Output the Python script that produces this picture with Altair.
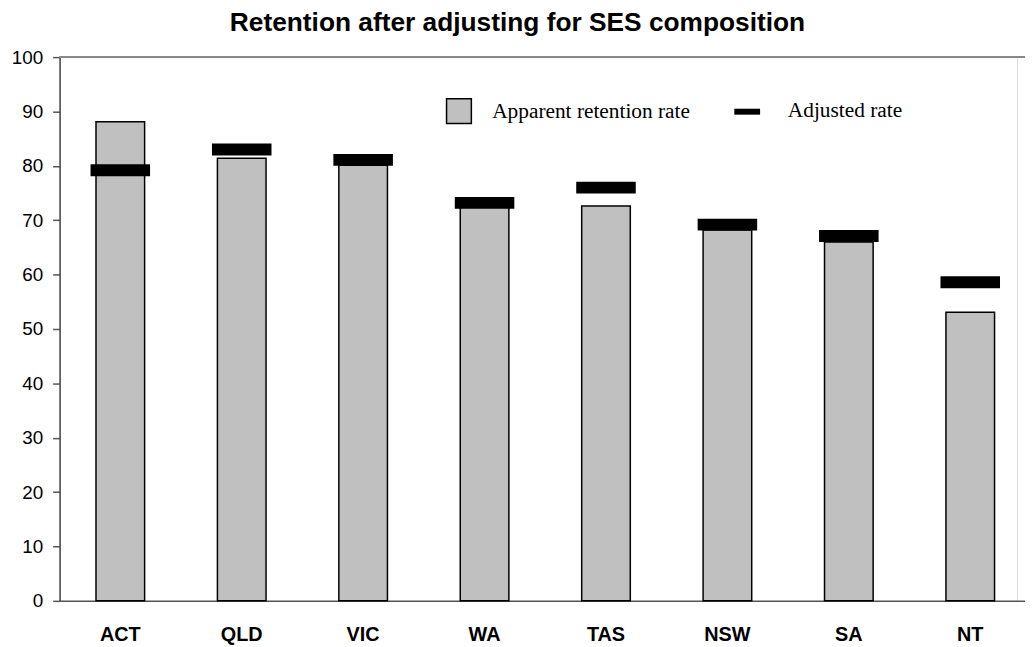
import altair as alt
import pandas as pd

states = ["ACT", "QLD", "VIC", "WA", "TAS", "NSW", "SA", "NT"]
apparent = [88.1, 81.4, 80.1, 72.4, 72.6, 68.2, 66.0, 53.1]
adjusted = [79.2, 83.0, 81.1, 73.2, 76.0, 69.2, 67.1, 58.6]
y_ticks = [0, 10, 20, 30, 40, 50, 60, 70, 80, 90, 100]
legend_labels = ["Apparent retention rate", "Adjusted rate"]
title_text = ["Retention after adjusting for SES composition"]

df = pd.DataFrame({"state": states, "apparent": apparent, "adjusted": adjusted})

W, H = 965, 548

x_enc = alt.X(
    "state:N",
    sort=None,
    title=None,
    scale=alt.Scale(range=[0, 979], paddingInner=0, paddingOuter=0),
    axis=alt.Axis(
        labelFont="Liberation Sans",
        labelFontSize=20,
        labelFontWeight="bold",
        labelColor="black",
        ticks=False,
        labelPadding=24,
        domainColor="#555555",
        domainWidth=1.5,
        labelAngle=0,
    ),
)
y_scale = alt.Scale(domain=[0, 100], nice=False, zero=True)
y_axis = alt.Axis(
    values=y_ticks,
    grid=False,
    labelFont="Liberation Sans",
    labelFontSize=19,
    labelColor="black",
    tickSize=7,
    tickColor="#555555",
    tickWidth=1.5,
    labelPadding=10,
    domainColor="#444444",
    domainWidth=1.5,
    title=None,
)

base = alt.Chart(df)

bars = base.mark_bar(
    width=49, color="#c0c0c0", stroke="black", strokeWidth=1.5
).encode(
    x=x_enc,
    y=alt.Y("apparent:Q", scale=y_scale, axis=y_axis),
)

adj = base.mark_tick(thickness=12, size=60, color="black", opacity=1).encode(
    x=alt.X("state:N", sort=None),
    y=alt.Y("adjusted:Q"),
)

top_rule = base.mark_rule(color="#888888", strokeWidth=1.5).encode(
    y=alt.datum(100), x=alt.value(0), x2=alt.value(984)
)

leg_df = pd.DataFrame({"label": legend_labels})

leg_square = alt.Chart(leg_df).transform_filter(
    alt.datum.label == legend_labels[0]
).mark_rect(color="#c0c0c0", stroke="black", strokeWidth=1.5).encode(
    x=alt.value(390), x2=alt.value(415), y=alt.value(42), y2=alt.value(67)
)
leg_text1 = alt.Chart(leg_df).transform_filter(
    alt.datum.label == legend_labels[0]
).mark_text(
    font="Liberation Serif", fontSize=21.5, align="left", baseline="alphabetic", color="black"
).encode(text="label:N", x=alt.value(436), y=alt.value(61))

leg_bar = alt.Chart(leg_df).transform_filter(
    alt.datum.label == legend_labels[1]
).mark_rect(color="black").encode(
    x=alt.value(680), x2=alt.value(706), y=alt.value(52), y2=alt.value(58)
)
leg_text2 = alt.Chart(leg_df).transform_filter(
    alt.datum.label == legend_labels[1]
).mark_text(
    font="Liberation Serif", fontSize=21.5, align="left", baseline="alphabetic", color="black"
).encode(text="label:N", x=alt.value(734), y=alt.value(60))

title = alt.Chart(pd.DataFrame({"t": title_text})).mark_text(
    font="Liberation Sans", fontSize=26.5, fontWeight="bold", color="black",
    align="center", baseline="alphabetic",
).encode(text="t:N", x=alt.value(461.5), y=alt.value(-26))

chart = alt.layer(
    bars, adj, top_rule, leg_square, leg_text1, leg_bar, leg_text2, title
).properties(
    width=W,
    height=H,
    autosize=alt.AutoSizeParams(type="none"),
    padding={"left": 52, "top": 47, "right": 8, "bottom": 44},
).configure_view(stroke=None).configure(background="white")

chart.save("out.html", embed_options={"renderer": "svg", "actions": False})
